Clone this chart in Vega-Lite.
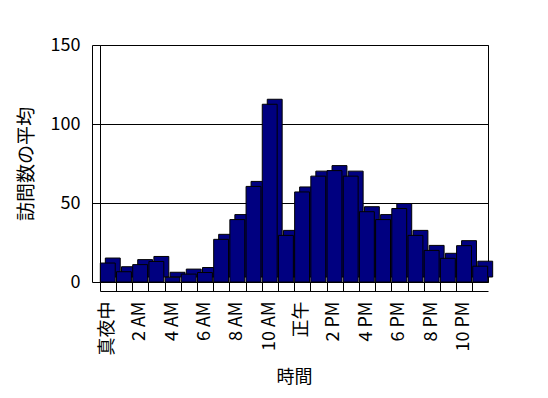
{
  "$schema": "https://vega.github.io/schema/vega-lite/v6.json",
  "autosize": "none",
  "width": 388,
  "height": 237,
  "padding": {"left": 100, "top": 45, "right": 60, "bottom": 116},
  "background": "white",
  "config": {
    "font": "Noto Sans CJK JP",
    "view": {"stroke": "black", "strokeWidth": 1},
    "axis": {"labelFont": "Noto Sans CJK JP", "titleFont": "Noto Sans CJK JP", "labelColor": "black", "titleColor": "black", "labelFontSize": 18, "titleFontSize": 18, "titleFontWeight": "normal", "domainColor": "black", "tickColor": "black"}
  },
  "data": {
    "values": [
      {"hour": 0, "avg": 12},
      {"hour": 1, "avg": 6.5},
      {"hour": 2, "avg": 11},
      {"hour": 3, "avg": 13},
      {"hour": 4, "avg": 3},
      {"hour": 5, "avg": 5},
      {"hour": 6, "avg": 6},
      {"hour": 7, "avg": 27},
      {"hour": 8, "avg": 39.5},
      {"hour": 9, "avg": 60.5},
      {"hour": 10, "avg": 112.5},
      {"hour": 11, "avg": 29.5},
      {"hour": 12, "avg": 57},
      {"hour": 13, "avg": 67},
      {"hour": 14, "avg": 70.5},
      {"hour": 15, "avg": 67},
      {"hour": 16, "avg": 44.5},
      {"hour": 17, "avg": 39.5},
      {"hour": 18, "avg": 46.5},
      {"hour": 19, "avg": 29.5},
      {"hour": 20, "avg": 20},
      {"hour": 21, "avg": 15},
      {"hour": 22, "avg": 23},
      {"hour": 23, "avg": 10}
    ]
  },
  "encoding": {
    "x": {
      "field": "hour",
      "type": "ordinal",
      "title": "時間",
      "scale": {"paddingInner": 0.08, "paddingOuter": 0.02},
      "axis": {
        "labelAngle": -90,
        "offset": 9,
        "tickSize": -9,
        "bandPosition": 0,
        "labelPadding": 19,
        "titlePadding": 14,
        "labelExpr": "datum.value == 0 ? '真夜中' : datum.value == 12 ? '正午' : datum.value % 2 == 1 ? '' : (datum.value % 12) + (datum.value < 12 ? ' AM' : ' PM')"
      }
    },
    "y": {
      "field": "avg",
      "type": "quantitative",
      "title": "訪問数の平均",
      "scale": {"domain": [0, 150]},
      "axis": {
        "values": [0, 50, 100, 150],
        "grid": true,
        "gridColor": "black",
        "gridOpacity": 1,
        "offset": 8,
        "tickSize": -8,
        "labelPadding": 20,
        "titlePadding": 14,
        "titleFontSize": 19
      }
    }
  },
  "layer": [
    {"mark": {"type": "bar", "color": "#000080", "stroke": "black", "strokeWidth": 1, "xOffset": 5, "yOffset": -5}},
    {"mark": {"type": "bar", "color": "#000080", "stroke": "black", "strokeWidth": 1}}
  ]
}
